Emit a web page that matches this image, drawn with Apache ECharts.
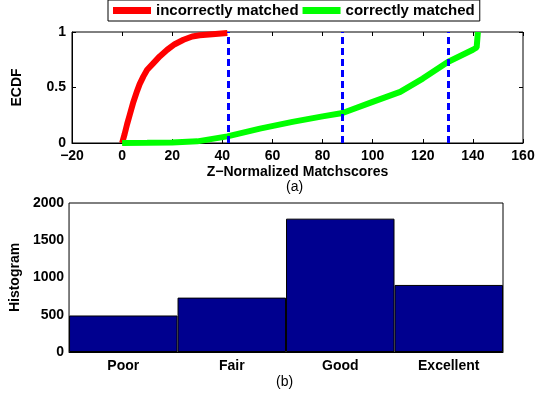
<!DOCTYPE html>
<html><head><meta charset="utf-8">
<script src="https://cdn.jsdelivr.net/npm/echarts@6/dist/echarts.min.js"></script>
<style>html,body{margin:0;padding:0;background:#fff}#c{width:543px;height:393px}</style>
</head><body><div id="c"></div>
<script>
const incorrectECDF = [[0,0],[1,0.08],[2,0.17],[3,0.25],[4.5,0.37],[6,0.47],[7,0.53],[8.5,0.6],[10,0.66],[12.5,0.72],[15,0.78],[18,0.84],[21,0.89],[24.5,0.93],[28,0.96],[31,0.97],[36,0.98],[42,0.99]];
const correctECDF = [[0,0],[10,0.002],[20,0.005],[30,0.015],[42,0.06],[55,0.13],[68,0.19],[80,0.24],[88,0.27],[100,0.37],[111,0.46],[120,0.58],[130,0.73],[140,0.84],[141.5,0.86],[142,1]];
const thresholds = [42.3, 88, 130];
const categories = ['Poor','Fair','Good','Excellent'];
const counts = [490, 730, 1790, 900];

const F = 'Liberation Sans, Arial, sans-serif';
const txt = {fontFamily:F, fontWeight:'bold', fontSize:14, color:'#000'};
const fmt = v => String(v).replace('-', '\u2212');
const chart = echarts.init(document.getElementById('c'), null, {renderer:'canvas'});
chart.setOption({
  animation:false,
  legend:{
    data:['incorrectly matched','correctly matched'],
    left:108, top:0, width:370, height:22,
    padding:[3,5,3,5], itemGap:4,
    borderColor:'#000', borderWidth:1, backgroundColor:'#fff',
    icon:'rect', itemWidth:38, itemHeight:7,
    textStyle:Object.assign({}, txt, {fontSize:15})
  },
  grid:[
    {left:72, right:20, top:32, height:111, show:true, borderColor:'#000', borderWidth:1, containLabel:false},
    {left:69, right:40, top:203, height:149, show:true, borderColor:'#000', borderWidth:1, containLabel:false}
  ],
  xAxis:[
    {type:'value', gridIndex:0, min:-20, max:160, interval:20,
     name:'Z\u2212Normalized Matchscores', nameLocation:'middle', nameGap:22, nameTextStyle:txt,
     axisLine:{onZero:false, lineStyle:{color:'#000'}}, axisTick:{inside:true, length:4, lineStyle:{color:'#000'}},
     axisLabel:Object.assign({margin:6, formatter:fmt}, txt), splitLine:{show:false}},
    {type:'value', gridIndex:0, min:-20, max:160, interval:20, position:'top',
     axisLine:{show:false, onZero:false}, axisTick:{inside:true, length:4, lineStyle:{color:'#000'}},
     axisLabel:{show:false}, splitLine:{show:false}},
    {type:'category', gridIndex:1, data:categories,
     axisLine:{onZero:false, lineStyle:{color:'#000'}}, axisTick:{show:false},
     axisLabel:Object.assign({margin:7}, txt)},
    {type:'category', gridIndex:1, data:categories, position:'top',
     axisLine:{show:false, onZero:false}, axisTick:{inside:true, alignWithLabel:true, length:4, lineStyle:{color:'#000'}},
     axisLabel:{show:false}}
  ],
  yAxis:[
    {type:'value', gridIndex:0, min:0, max:1, interval:0.5,
     name:'ECDF', nameLocation:'middle', nameGap:48, nameTextStyle:txt,
     axisLine:{onZero:false, lineStyle:{color:'#000'}}, axisTick:{inside:true, length:4, lineStyle:{color:'#000'}},
     axisLabel:Object.assign({margin:6}, txt), splitLine:{show:false}},
    {type:'value', gridIndex:0, min:0, max:1, interval:0.5, position:'right',
     axisLine:{show:false, onZero:false}, axisTick:{inside:true, length:4, lineStyle:{color:'#000'}},
     axisLabel:{show:false}, splitLine:{show:false}},
    {type:'value', gridIndex:1, min:0, max:2000, interval:500,
     name:'Histogram', nameLocation:'middle', nameGap:42, nameTextStyle:txt,
     axisLine:{onZero:false, lineStyle:{color:'#000'}}, axisTick:{inside:true, length:4, lineStyle:{color:'#000'}},
     axisLabel:Object.assign({margin:5, formatter:v => String(v)}, txt), splitLine:{show:false}},
    {type:'value', gridIndex:1, min:0, max:2000, interval:500, position:'right',
     axisLine:{show:false, onZero:false}, axisTick:{inside:true, length:4, lineStyle:{color:'#000'}},
     axisLabel:{show:false}, splitLine:{show:false}}
  ],
  series:[
    {name:'incorrectly matched', type:'line', xAxisIndex:0, yAxisIndex:0, data:incorrectECDF,
     showSymbol:false, symbol:'none', lineStyle:{color:'#ff0000', width:6}, itemStyle:{color:'#ff0000'}},
    {name:'correctly matched', type:'line', xAxisIndex:0, yAxisIndex:0, data:correctECDF,
     showSymbol:false, symbol:'none', lineStyle:{color:'#00ff00', width:6}, itemStyle:{color:'#00ff00'},
     markLine:{silent:true, symbol:['none','none'], label:{show:false},
       lineStyle:{color:'#0000ff', width:3, type:[7,4]},
       data:thresholds.map(v=>({xAxis:v}))}},
    {type:'bar', xAxisIndex:2, yAxisIndex:2, data:counts, barCategoryGap:'0%',
     itemStyle:{color:'#00008f', borderColor:'#000', borderWidth:1}}
  ],
  graphic:[
    {type:'text', left:286, top:180, style:{text:'(a)', font:'14px '+F, fill:'#000'}},
    {type:'text', left:276, top:375, style:{text:'(b)', font:'14px '+F, fill:'#000'}}
  ]
});
</script></body></html>
